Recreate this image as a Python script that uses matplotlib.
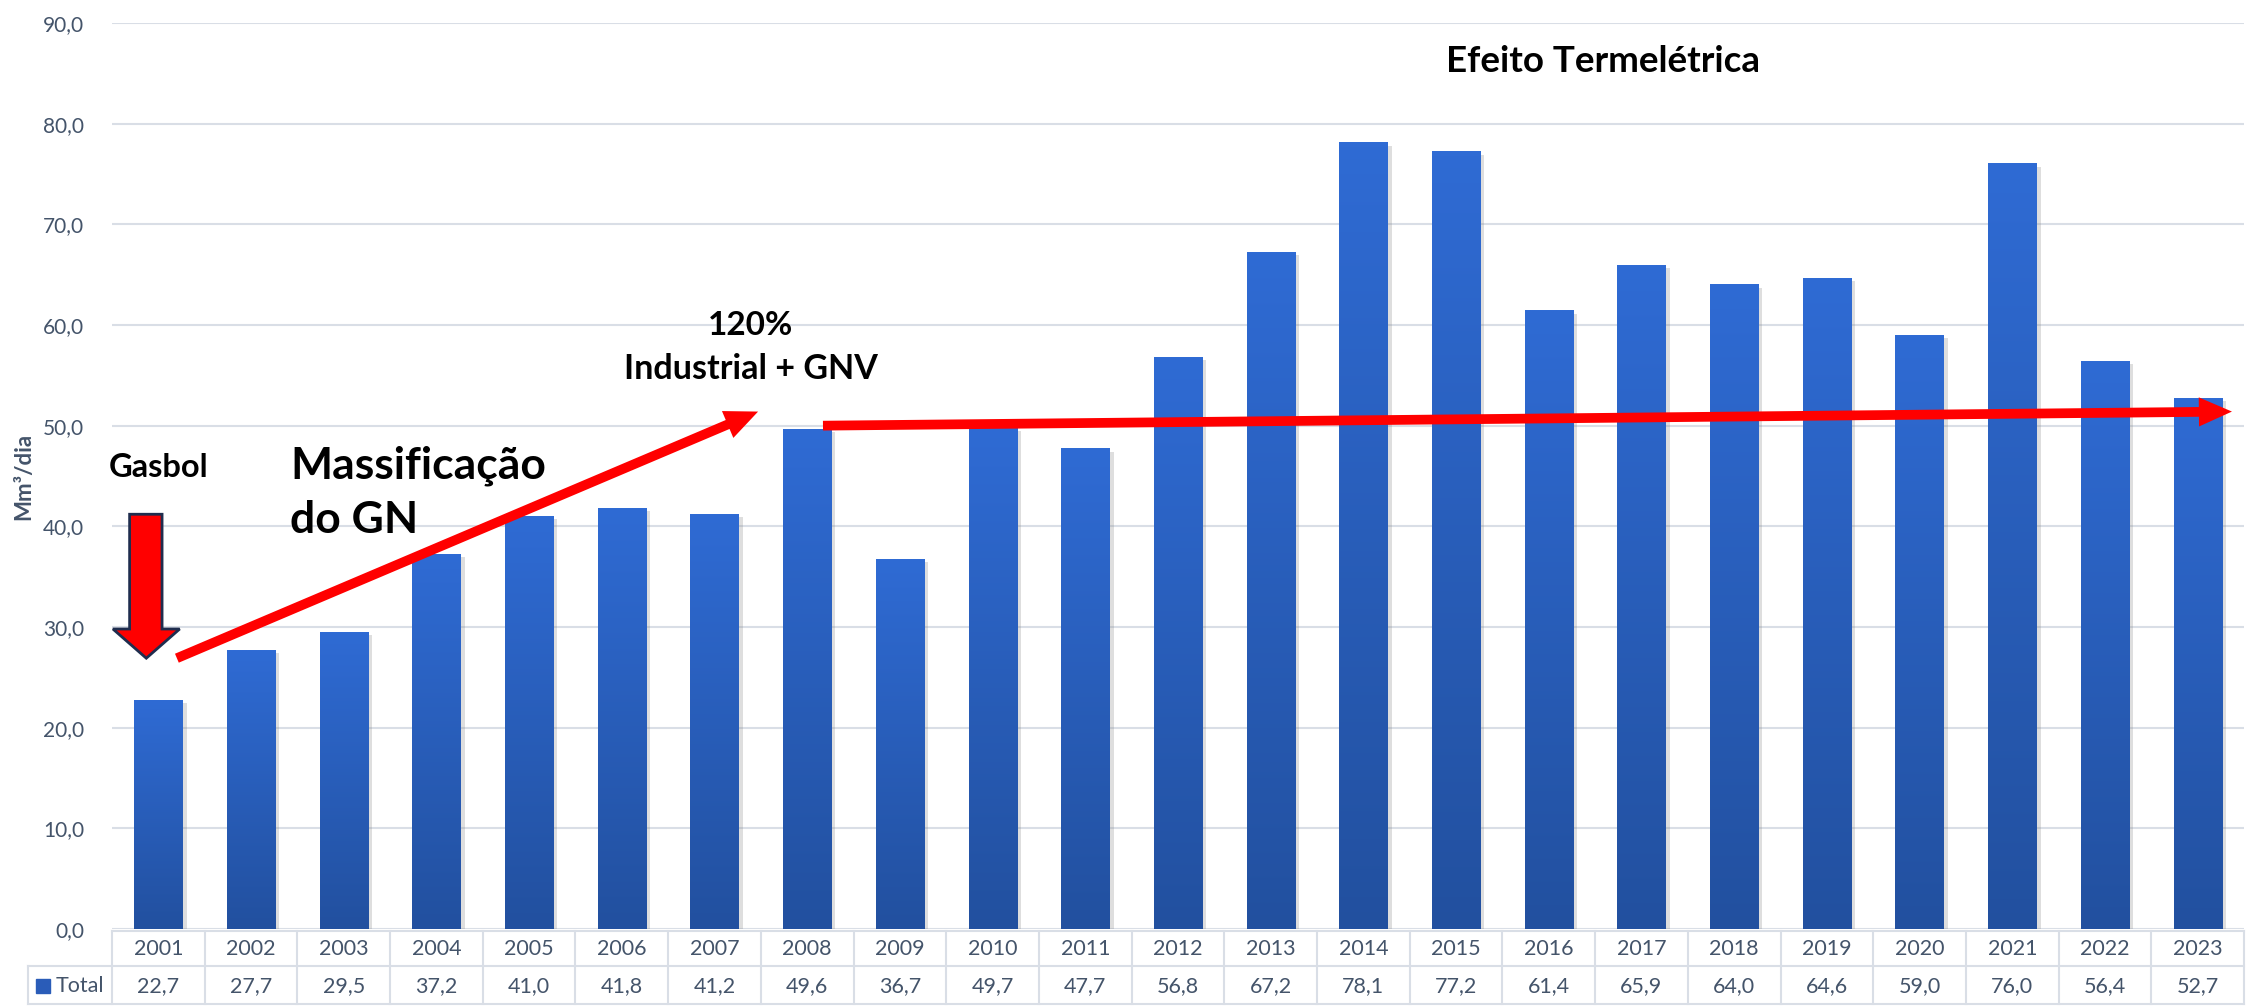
import numpy as np
import matplotlib
matplotlib.use('Agg')
import matplotlib.pyplot as plt
import matplotlib.patheffects as pe
from matplotlib.colors import LinearSegmentedColormap
from matplotlib.patches import Polygon, FancyArrowPatch, Rectangle
from matplotlib.lines import Line2D

plt.rcParams['font.family'] = ['Lato', 'DejaVu Sans']

# dados
anos = ['2001', '2002', '2003', '2004', '2005', '2006', '2007', '2008', '2009', '2010', '2011', '2012',
        '2013', '2014', '2015', '2016', '2017', '2018', '2019', '2020', '2021', '2022', '2023']
total = [22.7, 27.7, 29.5, 37.2, 41.0, 41.8, 41.2, 49.6, 36.7, 49.7, 47.7, 56.8,
         67.2, 78.1, 77.2, 61.4, 65.9, 64.0, 64.6, 59.0, 76.0, 56.4, 52.7]
yticks = [0, 10, 20, 30, 40, 50, 60, 70, 80, 90]

cor_txt = '#44546A'
cor_grid = '#D9DEE6'
azul = LinearSegmentedColormap.from_list('azul', ['#22509F', '#2F6BD4'])

W, H = 2254, 1008
fig = plt.figure(figsize=(W / 100, H / 100), dpi=100)
# area do grafico em pixels: x 112..2244, y 23..929 (de cima)
ax = fig.add_axes([112 / W, (H - 929) / H, 2132 / W, 906 / H])

x = np.arange(len(anos))
barras = ax.bar(x, total, width=0.52, color='#2A5CB8', zorder=2,
                path_effects=[pe.SimplePatchShadow(offset=(3, -2), shadow_rgbFace='#7f7f7f', alpha=0.25),
                              pe.Normal()])
grad = np.linspace(1, 0, 256).reshape(-1, 1)
for b in barras:
    ax.imshow(grad, extent=[b.get_x(), b.get_x() + b.get_width(), 0, b.get_height()],
              cmap=azul, aspect='auto', zorder=3, interpolation='bilinear')

ax.set_xlim(-0.5, len(anos) - 0.5)
ax.set_ylim(0, 90)
ax.set_yticks(yticks)
ax.set_yticklabels([f'{v:.1f}'.replace('.', ',') for v in yticks])
ax.set_xticks([])
ax.tick_params(axis='y', length=0, pad=20, labelsize=15, labelcolor=cor_txt)
for s in ax.spines.values():
    s.set_visible(False)
ax.grid(axis='y', color=cor_grid, lw=1.5, zorder=0)
ax.set_axisbelow(True)

fig.text(24 / W, 1 - 476 / H, 'Mm³/dia', rotation=90, ha='center', va='center',
         fontsize=16, fontweight='bold', color=cor_txt)

# tabela de dados embaixo
tr = ax.get_xaxis_transform()
def yf(py):
    return (929 - py) / 906

y_top, y_mid, y_bot = yf(931), yf(966), yf(1004)
x_lab = (28 - 158) / 92.7
xe, xd = -0.5, len(anos) - 0.5
kw = dict(color=cor_grid, lw=1.5, transform=tr, clip_on=False)
ax.add_line(Line2D([xe, xd], [y_top, y_top], **kw))
ax.add_line(Line2D([x_lab, xd], [y_mid, y_mid], **kw))
ax.add_line(Line2D([x_lab, xd], [y_bot, y_bot], **kw))
ax.add_line(Line2D([x_lab, x_lab], [y_mid, y_bot], **kw))
for k in range(len(anos) + 1):
    ax.add_line(Line2D([xe + k, xe + k], [y_top, y_bot], **kw))
for i, (a, v) in enumerate(zip(anos, total)):
    ax.text(i, yf(949), a, ha='center', va='center', fontsize=15.5, color=cor_txt, transform=tr)
    ax.text(i, yf(986), f'{v:.1f}'.replace('.', ','), ha='center', va='center',
            fontsize=15.5, color=cor_txt, transform=tr)
ax.add_patch(Rectangle(((36 - 158) / 92.7, yf(993)), 14 / 92.7, yf(979) - yf(993),
                       transform=tr, clip_on=False, color='#2A5CB8'))
ax.text((55 - 158) / 92.7, yf(986), 'Total', ha='left', va='center', fontsize=15.5,
        color=cor_txt, transform=tr)

# anotacoes
ax.text(15.58, 85.1, 'Efeito Termelétrica', ha='center', va='baseline', fontsize=26.5,
        fontweight='bold', color='black')
ax.text(6.39, 59.0, '120%', ha='center', va='baseline', fontsize=24, fontweight='bold')
ax.text(6.39, 54.6, 'Industrial + GNV', ha='center', va='baseline', fontsize=24.5, fontweight='bold')
ax.text(0.0, 44.9, 'Gasbol', ha='center', va='baseline', fontsize=23.5, fontweight='bold')
ax.text(1.42, 44.8, 'Massificação', ha='left', va='baseline', fontsize=32, fontweight='bold')
ax.text(1.42, 39.3, 'do GN', ha='left', va='baseline', fontsize=32, fontweight='bold')

seta_gasbol = [(-0.31, 41.2), (0.04, 41.2), (0.04, 29.8), (0.23, 29.8), (-0.13, 26.9),
               (-0.49, 29.8), (-0.31, 29.8)]
ax.add_patch(Polygon(seta_gasbol, closed=True, fc='#FF0000', ec='#1F2D4E', lw=2, zorder=6))

estilo = 'simple,head_length=1.7,head_width=1.5,tail_width=0.5'
for p0, p1 in [((0.20, 26.9), (6.47, 51.4)), ((7.17, 50.0), (22.37, 51.4))]:
    ax.add_patch(FancyArrowPatch(p0, p1, arrowstyle=estilo, mutation_scale=14,
                                 color='#FF0000', lw=0, shrinkA=0, shrinkB=0, zorder=6))

fig.savefig('out.png', dpi=100)
